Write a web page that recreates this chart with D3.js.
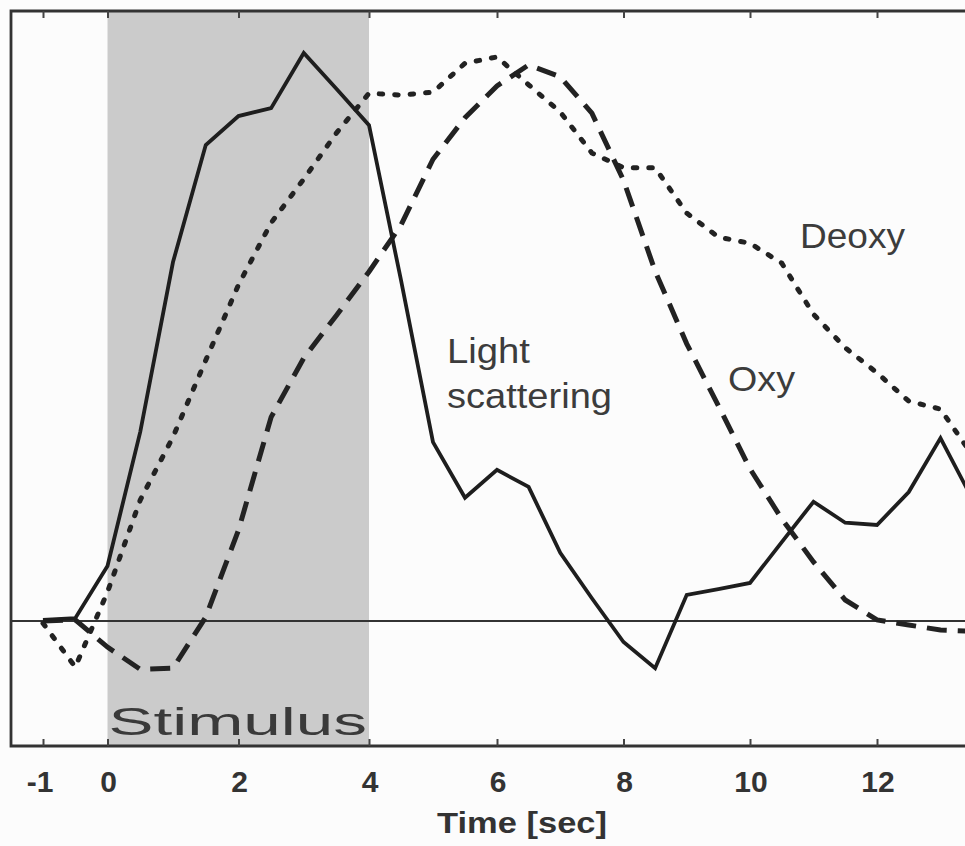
<!DOCTYPE html>
<html>
<head>
<meta charset="utf-8">
<script src="https://cdn.jsdelivr.net/npm/d3@7"></script>
<style>
  html, body { margin: 0; padding: 0; background: #fcfcfc; }
  svg { display: block; }
</style>
</head>
<body>
<svg id="chart" width="965" height="846"></svg>
<script>
// ---- data (y in % of light-scattering peak) ----
const time = [-1, -0.5, 0, 0.5, 1, 1.5, 2, 2.5, 3, 3.5, 4, 4.5, 5, 5.5, 6, 6.5, 7, 7.5, 8, 8.5, 9, 9.5, 10, 10.5, 11, 11.5, 12, 12.5, 13, 13.5];
const lightScattering = [0.2, 0.5, 9.7, 33.3, 63.2, 83.8, 88.9, 90.3, 100, 93.7, 87.3, 60.0, 31.5, 21.7, 26.6, 23.6, 12.0, 4.0, -3.7, -8.3, 4.6, 5.6, 6.7, 13.9, 21.0, 17.3, 16.9, 22.7, 32.2, 21.5];
const oxy = [0, 0.2, -4.6, -8.5, -8.3, 0.7, 16.0, 35.9, 46.3, 53.8, 61.5, 69.7, 81.3, 88.6, 94.2, 97.9, 95.8, 89.4, 77.6, 61.6, 48.8, 37.9, 26.8, 18.0, 10.4, 3.7, 0.2, -0.7, -1.6, -1.8];
const deoxy = [-0.4, -8.1, 5.1, 21.3, 32.4, 45.9, 59.2, 70.1, 77.8, 85.9, 92.9, 92.6, 93.1, 98.2, 99.3, 94.4, 89.6, 82.4, 79.8, 79.8, 71.8, 67.6, 66.5, 63.0, 54.0, 48.1, 43.7, 38.7, 37.3, 29.2];
const xTicks = [-1, 0, 2, 4, 6, 8, 10, 12];
const stimulus = [0, 4];
const seriesLabels = [
  { text: "Light", x: 447, y: 363, w: 83 },
  { text: "scattering", x: 447, y: 408, w: 165 },
  { text: "Oxy", x: 728, y: 391, w: 67 },
  { text: "Deoxy", x: 800, y: 248, w: 105 }
];

// ---- layout ----
const W = 965, H = 846;
const frame = { left: 11, top: 11, bottom: 746, right: 975 };

const svg = d3.select("#chart");

// x scale: polylinear to follow the tick spacing of the printed axis
const x = d3.scaleLinear()
  .domain(xTicks)
  .range([43, 107.5, 238.5, 369, 497, 623.5, 750, 877]);
const y = d3.scaleLinear().domain([0, 100]).range([621, 53]);

const font = "'Liberation Sans', Arial, Helvetica, sans-serif";

svg.append("defs").append("clipPath").attr("id", "plotclip")
  .append("rect")
  .attr("x", frame.left).attr("y", frame.top)
  .attr("width", frame.right - frame.left).attr("height", frame.bottom - frame.top);

// stimulus shading
svg.append("rect")
  .attr("x", x(stimulus[0]))
  .attr("y", frame.top)
  .attr("width", x(stimulus[1]) - x(stimulus[0]))
  .attr("height", frame.bottom - frame.top)
  .attr("fill", "#cbcbcb");

svg.append("text")
  .attr("x", x(stimulus[0]) + 1)
  .attr("y", 735)
  .attr("font-family", font)
  .attr("font-size", 39)
  .attr("fill", "#3a3a3a")
  .attr("textLength", x(stimulus[1]) - x(stimulus[0]) - 3)
  .attr("lengthAdjust", "spacingAndGlyphs")
  .text("Stimulus");

// zero line
svg.append("line")
  .attr("x1", frame.left).attr("x2", W)
  .attr("y1", y(0)).attr("y2", y(0))
  .attr("stroke", "#333").attr("stroke-width", 2);

// frame
svg.append("path")
  .attr("d", `M${W},${frame.top}H${frame.left}V${frame.bottom}H${W}`)
  .attr("fill", "none").attr("stroke", "#333").attr("stroke-width", 2.8);

// bottom axis (inward ticks)
const axB = d3.axisBottom(x).tickValues(xTicks).tickSize(-7).tickPadding(0).tickFormat("");
const gB = svg.append("g").attr("transform", `translate(0,${frame.bottom})`).call(axB);
gB.select(".domain").remove();
gB.selectAll(".tick line").attr("stroke", "#444").attr("stroke-width", 2);

// top axis (inward ticks)
const axT = d3.axisTop(x).tickValues(xTicks).tickSize(-7).tickFormat("");
const gT = svg.append("g").attr("transform", `translate(0,${frame.top})`).call(axT);
gT.select(".domain").remove();
gT.selectAll(".tick line").attr("stroke", "#444").attr("stroke-width", 2);

// tick labels
svg.append("g").selectAll("text")
  .data(xTicks).join("text")
  .attr("x", d => x(d) + (d < 0 ? -3 : 1))
  .attr("y", 792)
  .attr("text-anchor", "middle")
  .attr("font-family", font)
  .attr("font-weight", "bold")
  .attr("font-size", 30)
  .attr("fill", "#333")
  .text(d => d);

// axis title
svg.append("text")
  .attr("x", 437).attr("y", 833)
  .attr("font-family", font)
  .attr("font-weight", "bold")
  .attr("font-size", 30)
  .attr("fill", "#333")
  .attr("textLength", 170)
  .attr("lengthAdjust", "spacingAndGlyphs")
  .text("Time [sec]");

// series
const plot = svg.append("g").attr("clip-path", "url(#plotclip)");
const line = vals => d3.line()
  .x((d, i) => x(time[i]))
  .y(d => y(d))(vals);

plot.append("path")
  .attr("d", line(oxy))
  .attr("fill", "none").attr("stroke", "#222").attr("stroke-width", 5)
  .attr("stroke-dasharray", "20,11");

plot.append("path")
  .attr("d", line(deoxy))
  .attr("fill", "none").attr("stroke", "#222").attr("stroke-width", 5)
  .attr("stroke-linecap", "round")
  .attr("stroke-dasharray", "3.5,12");

plot.append("path")
  .attr("d", line(lightScattering))
  .attr("fill", "none").attr("stroke", "#1e1e1e").attr("stroke-width", 3.8)
  .attr("stroke-linejoin", "miter");

// series labels
svg.append("g").selectAll("text")
  .data(seriesLabels).join("text")
  .attr("x", d => d.x).attr("y", d => d.y)
  .attr("font-family", font)
  .attr("font-size", 35)
  .attr("fill", "#3c3c3c")
  .attr("textLength", d => d.w)
  .attr("lengthAdjust", "spacingAndGlyphs")
  .text(d => d.text);
</script>
</body>
</html>
